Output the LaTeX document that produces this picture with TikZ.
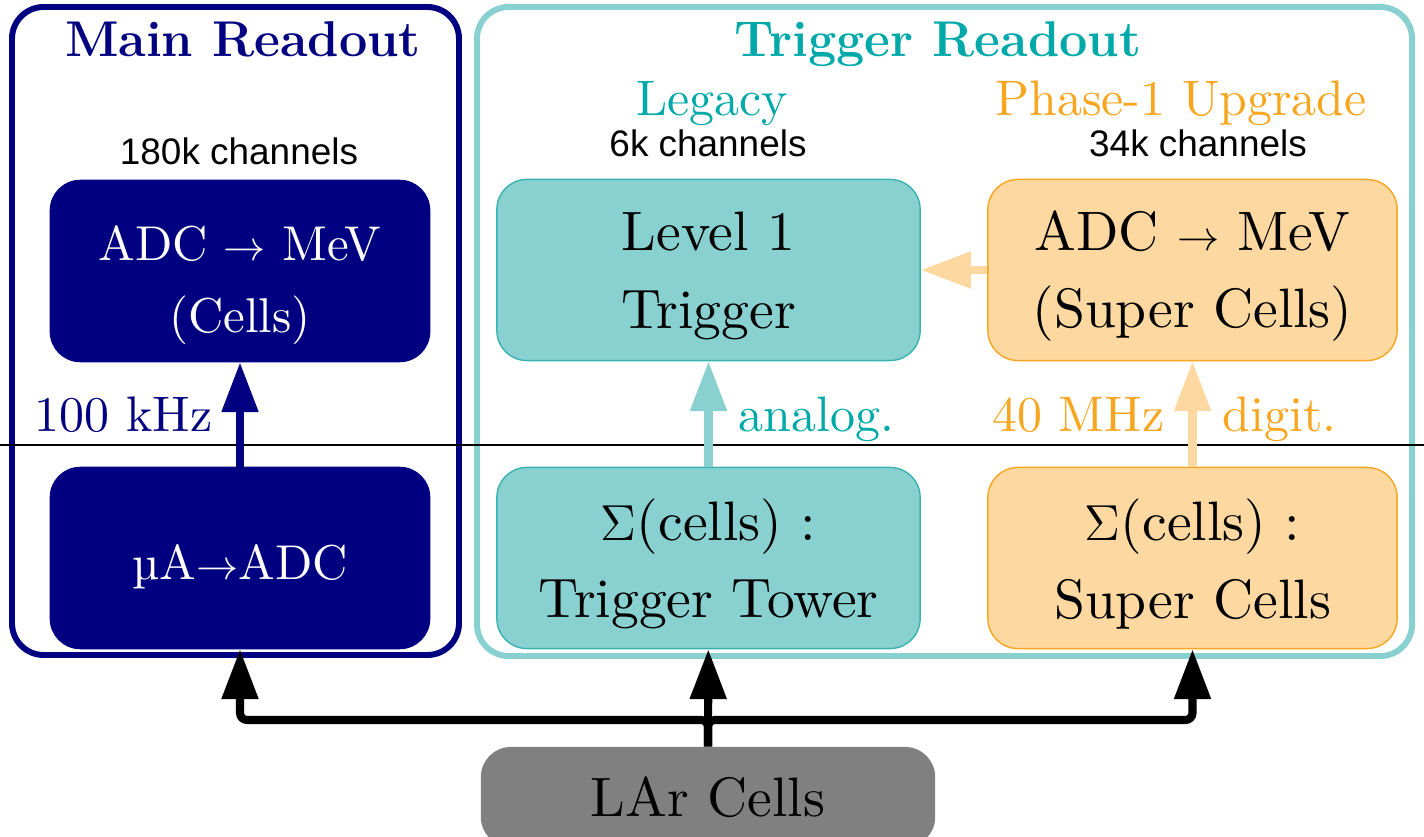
\documentclass[tikz,border=0pt]{standalone}
\usepackage{fontspec}
\setsansfont{Liberation Sans}
\newfontfamily\lmten{lmroman10-regular.otf}
\usetikzlibrary{arrows.meta,positioning}
\definecolor{roNavy}{HTML}{000080}
\definecolor{roTeal}{HTML}{00A9A9}
\definecolor{roTealLight}{HTML}{88D1D0}
\definecolor{roTealEdge}{HTML}{3AB2B2}
\definecolor{roOrange}{HTML}{F8A51F}
\definecolor{roOrangeLight}{HTML}{FDD9A1}
\definecolor{roGray}{HTML}{808080}
\newcommand{\roarr}{{\fontsize{13}{13}\selectfont$\rightarrow$}}
\tikzset{
  every picture/.style={font=\rmfamily},
  ro frame/.style={line width=1.7pt, rounded corners=9pt},
  ro title/.style={anchor=base, font=\bfseries\fontsize{14.3}{16}\selectfont},
  ro sub/.style={anchor=base, font=\lmten\fontsize{14.2}{17}\selectfont},
  ro count/.style={anchor=base, font=\sffamily\fontsize{10.5}{12}\selectfont},
  ro box/.style={rounded corners=8.5pt, line width=0.4pt,
    minimum height=1.81cm, font=\lmten\fontsize{15.8}{22}\selectfont},
  ro text/.style={align=center, inner sep=0pt, font=\lmten\fontsize{15.8}{22}\selectfont, yshift=-1.7pt},
  ro main text/.style={ro text, text=white, font=\lmten\fontsize{13.9}{20.5}\selectfont, yshift=-2.3pt},
  ro main/.style={ro box, fill=roNavy, draw=roNavy, text=white, minimum width=3.79cm},
  ro legacy/.style={ro box, fill=roTealLight, draw=roTealEdge, minimum width=4.23cm},
  ro upgrade/.style={ro box, fill=roOrangeLight, draw=roOrange, minimum width=4.09cm},
  ro arrow/.style={-{Triangle[length=14.2pt,width=10pt]}, line width=2.3pt},
  ro rate/.style={anchor=base, inner sep=0pt, font=\lmten\fontsize{14.2}{17}\selectfont}
}
\begin{document}
\begin{tikzpicture}[x=0.01cm,y=-0.01cm]
  \useasboundingbox (0,0) rectangle (1424,837);
  % readout frames
  \draw[ro frame, draw=roNavy] (12,7) rectangle (459,655);
  \draw[ro frame, draw=roTealLight] (477,7) rectangle (1412,656);
  \draw[line width=0.6pt] (0,445) -- (1424,445);
  % headings
  \node[ro title, text=roNavy] (maintitle) at (243,57) {Main Readout};
  \node[ro title, text=roTeal] (trigtitle) at (938,57) {Trigger Readout};
  \node[ro sub, text=roTeal] (legacy) at (712,116) {Legacy};
  \node[ro sub, text=roOrange] (upgrade) at (1181,116) {Phase-1 Upgrade};
  \node[ro count] (maincount) at (239,165) {180k channels};
  \node[ro count] (legacycount) at (708,157) {6k channels};
  \node[ro count] (upgradecount) at (1198,157) {34k channels};
  % boxes
  \node[ro main, label={[ro main text]center:{ADC \roarr{} MeV\\(Cells)}}] (mainmev) at (240,271) {};
  \node[ro main, label={[ro main text, yshift=1.4pt]center:{µA\roarr{}ADC}}] (mainadc) at (240,558) {};
  \node[ro legacy, label={[ro text]center:{Level 1\\Trigger}}] (level1) at (708.5,270) {};
  \node[ro legacy, label={[ro text]center:{$\Sigma$(cells) :\\Trigger Tower}}] (tower) at (708.5,558) {};
  \node[ro upgrade, label={[ro text]center:{ADC \roarr{} MeV\\(Super Cells)}}] (scmev) at (1192.5,270) {};
  \node[ro upgrade, label={[ro text]center:{$\Sigma$(cells) :\\Super Cells}}] (scsum) at (1192.5,558) {};
  \node[ro box, fill=roGray, minimum width=4.54cm, minimum height=1.0cm] (lar) at (708,797) {LAr Cells};
  % rates
  \node[ro rate, anchor=base east, text=roNavy] (mainrate) at (213,432) {100 kHz};
  \node[ro rate, anchor=base west, text=roTeal] (analog) at (738,432) {analog.};
  \node[ro rate, anchor=base east, text=roOrange] (scrate) at (1165,432) {40 MHz};
  \node[ro rate, anchor=base west, text=roOrange] (digit) at (1222,432) {digit.};
  % data flow
  \draw[ro arrow, draw=roNavy] (mainadc) -- (mainmev);
  \draw[ro arrow, draw=roTealLight] (tower) -- (level1);
  \draw[ro arrow, draw=roOrangeLight] (scsum) -- (scmev);
  \draw[ro arrow, draw=roOrangeLight] (scmev) -- (level1);
  \coordinate (bus) at (708,720);
  \draw[ro arrow] (lar) -- (tower);
  \draw[ro arrow, rounded corners=2pt] (lar.north) -- (bus) -| (mainadc.south);
  \draw[ro arrow, rounded corners=2pt] (lar.north) -- (bus) -| (scsum.south);
\end{tikzpicture}
\end{document}
